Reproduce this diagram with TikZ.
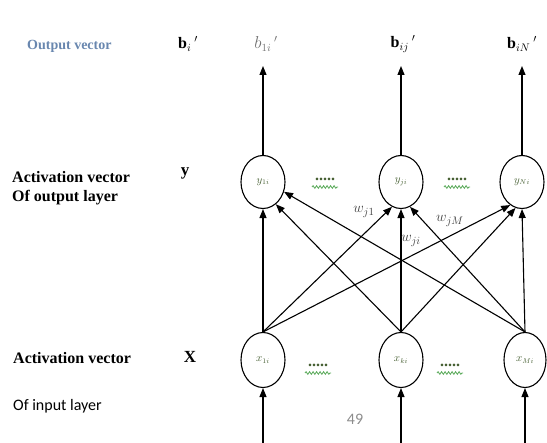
\documentclass[tikz,border=0pt]{standalone}
\usepackage{fontspec}
\setmainfont{Liberation Serif}
\newfontfamily\calfont{Carlito}
\usetikzlibrary{arrows.meta,shapes.geometric,decorations.pathmorphing}
\definecolor{outblue}{RGB}{105,135,175}
\definecolor{lblgreen}{RGB}{70,95,50}
\definecolor{sqgreen}{RGB}{90,170,90}
\begin{document}
\begin{tikzpicture}[x=1pt,y=-1pt,
  neuron/.style={draw,ellipse,line width=1.1pt,minimum width=44pt,minimum height=53pt,inner sep=0pt,
    font=\fontsize{10.5}{11}\selectfont,text=lblgreen},
  arr/.style={line width=1.1pt,-{Triangle[length=9pt,width=7pt]}},
  leftlbl/.style={anchor=west,inner sep=0pt,font=\fontsize{16}{18}\selectfont\bfseries},
  sanslbl/.style={anchor=west,inner sep=0pt,font=\calfont\fontsize{16}{18}\selectfont},
  veclbl/.style={inner sep=0pt,font=\fontsize{16}{18}\selectfont},
  wlbl/.style={inner sep=0pt,font=\fontsize{15}{16}\selectfont,text=black!75},
  dotsty/.style={inner sep=0pt,font=\fontsize{16}{16}\selectfont\bfseries,text=lblgreen},
  squig/.style={sqgreen,line width=0.8pt,decorate,decoration={snake,amplitude=1.3pt,segment length=3.5pt}}
]
\useasboundingbox (0,0) rectangle (547,443);

% neurons
\node[neuron] (y1) at (263,182) {$y_{1i}$};
\node[neuron] (yj) at (401,182) {$y_{ji}$};
\node[neuron] (yN) at (522,182) {$y_{Ni}$};
\node[neuron,minimum height=55pt] (x1) at (263,360) {$x_{1i}$};
\node[neuron,minimum height=55pt] (xk) at (401,360) {$x_{ki}$};
\node[neuron,minimum width=42pt,minimum height=55pt] (xM) at (525,360) {$x_{Mi}$};

% output / input free ends
\coordinate (o1) at (263,66);
\coordinate (oj) at (401,66);
\coordinate (oN) at (522,66);
\coordinate (i1) at (263,443);
\coordinate (ik) at (401,443);
\coordinate (iM) at (525,443);

\draw[arr] (y1.north) -- (o1);
\draw[arr] (yj.north) -- (oj);
\draw[arr] (yN.north) -- (oN);
\draw[arr] (i1) -- (x1.south);
\draw[arr] (ik) -- (xk.south);
\draw[arr] (iM) -- (xM.south);

% connections
\draw[arr] (x1.north) -- (y1.south);
\draw[arr] (x1.north) -- (yj.250);
\draw[arr] (x1.north) -- (yN.243);
\draw[arr] (xk.north) -- (y1.300);
\draw[arr] (xk.north) -- (yj.south);
\draw[arr] (xk.north) -- (yN.256);
\draw[arr] (xM.north) -- (y1.335);
\draw[arr] (xM.north) -- (yj.290);
\draw[arr] (xM.north) -- (yN.south);

% weights
\node[wlbl] (w1) at (364,212) {$w_{j1}$};
\node[wlbl] (wi) at (411,241) {$w_{ji}$};
\node[wlbl] (wM) at (450,221) {$w_{jM}$};

% dots
\node[dotsty] (d1) at (325,179) {.....};
\node[dotsty] (d2) at (457,179) {.....};
\node[dotsty] (d3) at (318,365) {.....};
\node[dotsty] (d4) at (450,365) {.....};
\draw[squig] (312,187) -- (338,187);
\draw[squig] (444,187) -- (470,187);
\draw[squig] (305,373) -- (331,373);
\draw[squig] (437,373) -- (463,373);

% top labels
\node[anchor=west,inner sep=0pt,text=outblue,font=\fontsize{14}{15}\selectfont\bfseries] (ov) at (27,46) {Output vector};
\node[veclbl] (bi) at (188,44) {$\mathbf{b}_{i}\,{}^{\prime}$};
\node[veclbl,text=black!55] (b1) at (266,44) {$b_{1i}\,{}^{\prime}$};
\node[veclbl] (bj) at (403,44) {$\mathbf{b}_{ij}\,{}^{\prime}$};
\node[veclbl] (bN) at (522,44) {$\mathbf{b}_{iN}\,{}^{\prime}$};

% left labels
\node[leftlbl] (ao) at (12,177) {Activation vector};
\node[leftlbl] (oo) at (12,198) {Of output layer};
\node[veclbl,font=\fontsize{17}{18}\selectfont\bfseries] (yv) at (185,173) {y};
\node[leftlbl] (ai) at (13,358) {Activation vector};
\node[sanslbl] (oi) at (13,406) {Of input layer};
\node[veclbl,font=\fontsize{17}{18}\selectfont\bfseries] (xv) at (190,357) {X};

% page number
\node[inner sep=0pt,text=black!45,font=\calfont\fontsize{16}{16}\selectfont] (pg) at (355,419) {49};
\end{tikzpicture}
\end{document}
